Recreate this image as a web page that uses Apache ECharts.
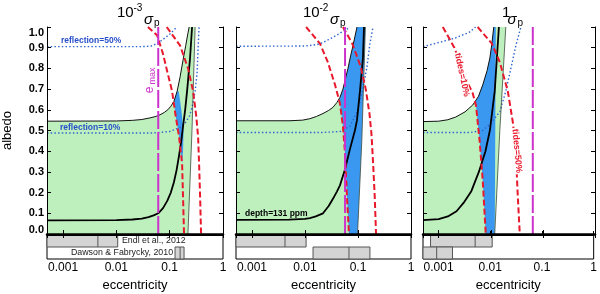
<!DOCTYPE html>
<html><head><meta charset="utf-8">
<script src="https://cdn.jsdelivr.net/npm/echarts@6/dist/echarts.min.js"></script>
<style>html,body{margin:0;padding:0;background:#fff}#c{width:600px;height:294px}</style>
</head><body><div id="c"></div>
<script>
// ---------- data ----------
const E_MIN = 0.0005, E_TOP = 1;
const xTickValues = [0.001, 0.01, 0.1, 1];
const xTickLabels = ['0.001', '0.01', '0.1', '1'];
const stripRows = ['Endl et al., 2012', 'Dawson & Fabrycky, 2010'];
const eMax = [0.061, 0.057, 0.064];

// panel 1 : 10^-3 sigma_p
const thinP1 = [[0.0005,0.545],[0.01,0.546],[0.02,0.549],[0.03,0.553],[0.043,0.561],[0.055,0.568],[0.066,0.576],[0.08,0.588],[0.092,0.6],[0.105,0.617],[0.12,0.64],[0.138,0.69],[0.157,0.76],[0.178,0.84],[0.2,0.91],[0.22,0.97],[0.232,1.0]];
const depthP1 = [[0.0005,0.066],[0.01,0.067],[0.02,0.07],[0.03,0.074],[0.04,0.082],[0.05,0.09],[0.061,0.1],[0.075,0.125],[0.09,0.16],[0.105,0.2],[0.12,0.25],[0.135,0.31],[0.15,0.38],[0.165,0.45],[0.178,0.52],[0.195,0.6],[0.212,0.69],[0.241,0.85],[0.263,1.0]];
const greenEdgeP1 = [[0.22,0],[0.262,0.5],[0.30,1.0]];
const blueP1 = [[0.121,0.64],[0.138,0.69],[0.148,0.69],[0.165,0.6],[0.182,0.5],[0.178,0.4],[0.171,0.34],[0.15,0.47],[0.126,0.59]];
const tides10P1 = [[0.039,1.0],[0.058,0.96],[0.075,0.87],[0.093,0.77],[0.111,0.69],[0.126,0.59],[0.15,0.47],[0.171,0.34],[0.178,0.18],[0.186,0.0]];
const tides50P1 = [[0.088,1.0],[0.157,0.91],[0.221,0.8],[0.275,0.69],[0.315,0.57],[0.341,0.47],[0.356,0.34],[0.372,0.18],[0.388,0.0]];
const refl50P1 = [[0.0005,0.905],[0.03,0.905],[0.045,0.908],[0.058,0.92],[0.075,0.94],[0.1,0.965],[0.125,0.99],[0.14,1.0]];
const refl10P1 = [[0.0005,0.488],[0.05,0.488],[0.1,0.495],[0.157,0.515],[0.2,0.54],[0.235,0.57],[0.262,0.61],[0.3,0.69],[0.327,0.78],[0.341,0.9],[0.356,1.0]];

// panel 2 : 10^-2 sigma_p
const thinP2 = [[0.0005,0.547],[0.005,0.547],[0.009,0.55],[0.0124,0.557],[0.0165,0.568],[0.0219,0.582],[0.028,0.597],[0.0337,0.612],[0.04,0.635],[0.0457,0.66],[0.052,0.70],[0.058,0.75],[0.0647,0.80],[0.0725,0.86],[0.0805,0.91],[0.0958,1.0]];
const depthP2 = [[0.0005,0.068],[0.005,0.069],[0.01,0.073],[0.0124,0.077],[0.016,0.085],[0.0219,0.1],[0.028,0.135],[0.0337,0.17],[0.04,0.205],[0.0457,0.235],[0.0566,0.31],[0.0705,0.41],[0.0875,0.5],[0.0958,0.55],[0.109,0.69],[0.124,0.85],[0.13,1.0]];
const blueEdgeP2 = [[0.098,0],[0.118,0.45],[0.138,1.0]];
const blueP2 = [[0.044,0.65],[0.0457,0.66],[0.052,0.70],[0.058,0.75],[0.0647,0.80],[0.0725,0.86],[0.0805,0.91],[0.0958,1.0],[0.138,1.0],[0.118,0.45],[0.098,0],[0.0676,0],[0.062,0.18],[0.0566,0.40],[0.052,0.52],[0.0457,0.63]];
const tides10P2 = [[0.0105,1.0],[0.0192,0.92],[0.027,0.83],[0.037,0.72],[0.0457,0.63],[0.052,0.52],[0.0566,0.4],[0.062,0.18],[0.0676,0.0]];
const tides50P2 = [[0.052,1.0],[0.078,0.92],[0.112,0.81],[0.14,0.7],[0.165,0.58],[0.18,0.48],[0.193,0.34],[0.207,0.18],[0.219,0.0]];
const refl50P2 = [[0.0005,0.907],[0.01,0.908],[0.0168,0.915],[0.0219,0.925],[0.0337,0.95],[0.0457,0.97],[0.062,0.99],[0.0705,1.0]];
const refl10P2 = [[0.0005,0.49],[0.02,0.49],[0.0457,0.495],[0.0706,0.52],[0.1,0.6],[0.124,0.7],[0.148,0.81],[0.168,0.92],[0.192,1.0]];

// panel 3 : 1 sigma_p
const thinP3 = [[0.0005,0.543],[0.001,0.545],[0.0015,0.552],[0.00212,0.565],[0.0032,0.59],[0.0045,0.623],[0.0058,0.665],[0.007,0.72],[0.0085,0.79],[0.0096,0.85],[0.0105,0.92],[0.0114,1.0]];
const depthP3 = [[0.0005,0.067],[0.001,0.072],[0.0015,0.085],[0.0022,0.11],[0.003,0.15],[0.0042,0.205],[0.0059,0.3],[0.0079,0.4],[0.0096,0.5],[0.0119,0.69],[0.0143,1.0]];
const greenEdgeP3 = [[0.0119,0],[0.0149,0.5],[0.0194,1.0]];
const blueP3 = [[0.0051,0.64],[0.0058,0.665],[0.007,0.72],[0.0085,0.79],[0.0096,0.85],[0.0105,0.92],[0.0114,1.0],[0.0125,1.0],[0.0122,0.5],[0.0119,0],[0.008,0],[0.007,0.26],[0.0061,0.45],[0.0052,0.62]];
const tides10P3 = [[0.0012,1.0],[0.002,0.9],[0.0028,0.8],[0.0036,0.73],[0.0045,0.68],[0.0052,0.62],[0.0061,0.45],[0.007,0.26],[0.008,0.0]];
const tides50P3 = [[0.0056,1.0],[0.0105,0.92],[0.0149,0.83],[0.0212,0.69],[0.0265,0.54],[0.03,0.41],[0.033,0.18],[0.036,0.0]];
const refl50P3 = [[0.0005,0.905],[0.0012,0.93],[0.0021,0.947],[0.0039,0.975],[0.0051,1.0]];
const refl10P3 = [[0.0005,0.49],[0.004,0.49],[0.007,0.5],[0.0096,0.53],[0.0149,0.59],[0.0194,0.69],[0.0243,0.8],[0.0303,0.91],[0.0378,1.0]];

// strip boxes [low, median, high] per panel
const endlBoxes = [[0.0005,0.0045,0.0106],[0.0005,0.0042,0.0105],[0.0007,0.0051,0.0109]];
const dawsonBoxes = [[0.126,0.157,0.186],[0.0142,0.0676,0.168],[0.0005,0.00092,0.00186]];

// ---------- styling / layout ----------
const FONT = '"Liberation Sans", Arial, sans-serif';
const C_GREEN = '#bef0be', C_BLUE = '#3a98f0', C_RED = '#e8192c', C_DOT = '#2f66d0', C_MAG = '#cc33cc';
const gridPos = [{left:47,width:176},{left:236,width:175},{left:423,width:172}];

const panels = [
  {thin:thinP1, depth:depthP1, edge:greenEdgeP1, blue:blueP1, t10:tides10P1, t50:tides50P1, r50:refl50P1, r10:refl10P1,
   green:[[E_MIN,0]].concat(thinP1, greenEdgeP1.slice().reverse())},
  {thin:thinP2, depth:depthP2, edge:blueEdgeP2, blue:blueP2, t10:tides10P2, t50:tides50P2, r50:refl50P2, r10:refl10P2,
   green:[[E_MIN,0]].concat(thinP2, [[thinP2[thinP2.length-1][0],0]])},
  {thin:thinP3, depth:depthP3, edge:greenEdgeP3, blue:blueP3, t10:tides10P3, t50:tides50P3, r50:refl50P3, r10:refl10P3,
   green:[[E_MIN,0]].concat(thinP3, greenEdgeP3.slice().reverse())}
];

function xLabel(v){
  for (let k=0;k<xTickValues.length;k++){
    if (Math.abs(Math.log10(v)-Math.log10(xTickValues[k]))<1e-6) return xTickLabels[k];
  }
  return '';
}
function yLabel(v){
  const s = v.toFixed(1);
  if (Math.abs(v) < 1e-9) return '{lo|'+s+'}';
  if (Math.abs(v-1) < 1e-9) return '{hi|'+s+'}';
  return s;
}

const grid = [], xAxis = [], yAxis = [], series = [];
gridPos.forEach(g => grid.push({left:g.left, width:g.width, top:27, height:207}));
gridPos.forEach(g => grid.push({left:g.left, width:g.width, top:235, height:24, show:true, borderColor:'#000', borderWidth:1}));

const yLblStyle = {fontWeight:'bold', fontSize:11, fontFamily:FONT, color:'#000'};
for (let i=0;i<3;i++){
  const baseX = {type:'log', min:E_MIN, max:E_TOP, z:10, splitLine:{show:false}, minorTick:{show:false}, minorSplitLine:{show:false}};
  xAxis.push(Object.assign({}, baseX, {gridIndex:i, position:'bottom',
    axisLine:{show:true, lineStyle:{color:'#000', width:2.5}},
    axisTick:{show:true, inside:true, length:4, lineStyle:{color:'#000'}}, axisLabel:{show:false}}));
  xAxis.push(Object.assign({}, baseX, {gridIndex:i, position:'top',
    axisLine:{show:true, lineStyle:{color:'#000', width:1}},
    axisTick:{show:true, inside:true, length:4, lineStyle:{color:'#000'}}, axisLabel:{show:false}}));
  xAxis.push(Object.assign({}, baseX, {gridIndex:3+i, position:'bottom',
    axisLine:{show:true, lineStyle:{color:'#000', width:1}},
    axisTick:{show:true, inside:true, length:4, lineStyle:{color:'#000'}},
    axisLabel:{show:true, formatter:xLabel, fontSize:12, fontFamily:FONT, color:'#000', margin:3, showMinLabel:true, showMaxLabel:true},
    name:'eccentricity', nameLocation:'middle', nameGap:20, nameTextStyle:{fontSize:13, fontFamily:FONT, color:'#000'}}));

  const baseY = {type:'value', min:0, max:1, interval:0.1, z:10, splitLine:{show:false},
    axisLine:{show:true, lineStyle:{color:'#000', width:1}},
    axisTick:{show:true, inside:true, length:4, lineStyle:{color:'#000'}}};
  yAxis.push(Object.assign({}, baseY, {gridIndex:i, position:'left',
    axisLabel: i===0 ? Object.assign({show:true, formatter:yLabel, margin:3,
      rich:{lo:Object.assign({padding:[0,0,9,0]}, yLblStyle), hi:Object.assign({padding:[12,0,0,0]}, yLblStyle)}}, yLblStyle) : {show:false},
    name: i===0 ? 'albedo' : '', nameLocation:'middle', nameGap:33, nameRotate:90,
    nameTextStyle:{fontSize:13, fontFamily:FONT, color:'#000'}}));
  yAxis.push(Object.assign({}, baseY, {gridIndex:i, position:'right', axisLabel:{show:false}}));
  yAxis.push({gridIndex:3+i, type:'value', min:0, max:2, inverse:true, show:false});
}

function polyS(p, pts, color, z){
  return {type:'custom', xAxisIndex:3*p, yAxisIndex:3*p, data:pts, z, silent:true, clip:true,
    renderItem:(params, api) => {
      if (params.dataIndex !== 0) return null;
      const points = pts.map(q => api.coord(q));
      return {type:'polygon', shape:{points}, style:{fill:color}};
    }};
}
function lineS(p, data, color, width, type, z){
  return {type:'line', xAxisIndex:3*p, yAxisIndex:3*p, data, symbol:'none', showSymbol:false, silent:true,
    lineStyle:{color, width, type}, z, clip:true};
}

panels.forEach((P, p) => {
  series.push(polyS(p, P.green, C_GREEN, 1));
  series.push(polyS(p, P.blue, C_BLUE, 2));
  series.push(lineS(p, P.r50, C_DOT, 1.4, [1.5,2.2], 3));
  series.push(lineS(p, P.r10, C_DOT, 1.4, [1.5,2.2], 3));
  series.push(lineS(p, P.edge, '#3c4a3c', 0.8, 'solid', 3));
  series.push(lineS(p, P.thin, '#111', 1, 'solid', 4));
  series.push(lineS(p, P.depth, '#000', 1.8, 'solid', 5));
  series.push(lineS(p, P.t10, C_RED, 2, [6,3], 6));
  series.push(lineS(p, P.t50, C_RED, 2, [6,3], 6));
  series.push(lineS(p, [[eMax[p],0],[eMax[p],1]], C_MAG, 2, [18,3], 7));
  const boxes = [endlBoxes[p].concat([0]), dawsonBoxes[p].concat([1])];
  series.push({type:'custom', xAxisIndex:3*p+2, yAxisIndex:3*p+2, data:boxes, encode:{x:[0,1,2], y:3}, silent:true, z:3,
    renderItem:(params, api) => {
      const r = api.value(3);
      const a = api.coord([api.value(0), r]);
      const b = api.coord([api.value(2), r+1]);
      const m = api.coord([api.value(1), r]);
      return {type:'group', children:[
        {type:'rect', shape:{x:a[0], y:a[1], width:b[0]-a[0], height:b[1]-a[1]}, style:{fill:'#d4d4d4', stroke:'#555', lineWidth:1}},
        {type:'line', shape:{x1:m[0], y1:a[1], x2:m[0], y2:b[1]}, style:{stroke:'#555', lineWidth:1}}
      ]};
    }});
});

function txt(x, y, text, font, fill, o){
  o = o || {};
  return {type:'text', x, y, z:100, silent:true, rotation:o.rot||0,
    style:{text, font, fill, align:o.align||'left', verticalAlign:'middle',
      backgroundColor:o.bg, padding:o.pad}};
}
const F = (w, s, fam) => (w ? w+' ' : '') + s + 'px ' + (fam || FONT);
const graphic = [
  // titles
  txt(117, 13, '10', F('',15), '#000'), txt(133.5, 8, '-3', F('',10), '#000'),
  txt(144, 20, 'σ', F('italic',15), '#000'), txt(154, 23, 'p', F('',10), '#000'),
  txt(303, 13, '10', F('',15), '#000'), txt(319.5, 8, '-2', F('',10), '#000'),
  txt(330, 20, 'σ', F('italic',15), '#000'), txt(340, 23, 'p', F('',10), '#000'),
  txt(502, 13, '1', F('',15), '#000'),
  txt(507.5, 20, 'σ', F('italic',15), '#000'), txt(517.5, 23, 'p', F('',10), '#000'),
  // panel annotations
  txt(61, 41, 'reflection=50%', F('bold',8.5), '#2850c8'),
  txt(60, 128, 'reflection=10%', F('bold',8.5), '#2850c8'),
  txt(150, 90, 'e', F('',12), C_MAG, {align:'center', rot:Math.PI/2}),
  txt(153, 76, 'max', F('',9), C_MAG, {align:'center', rot:Math.PI/2}),
  txt(245, 213.5, 'depth=131 ppm', F('bold',8.5), '#000'),
  txt(462, 75, 'tides=10%', F('bold',9), C_RED, {align:'center', rot:-1.36, bg:'#fff', pad:[0,1]}),
  txt(517, 151, 'tides=50%', F('bold',9), C_RED, {align:'center', rot:-1.48, bg:'#fff', pad:[0,1]}),
  // strip labels
  txt(122, 241, stripRows[0], F('',8.8), '#222'),
  txt(71, 253, stripRows[1], F('',8.8), '#222')
];

const chart = echarts.init(document.getElementById('c'), null, {renderer:'canvas'});
chart.setOption({
  animation:false,
  textStyle:{fontFamily:FONT},
  grid, xAxis, yAxis, series, graphic
});
</script>
</body></html>
